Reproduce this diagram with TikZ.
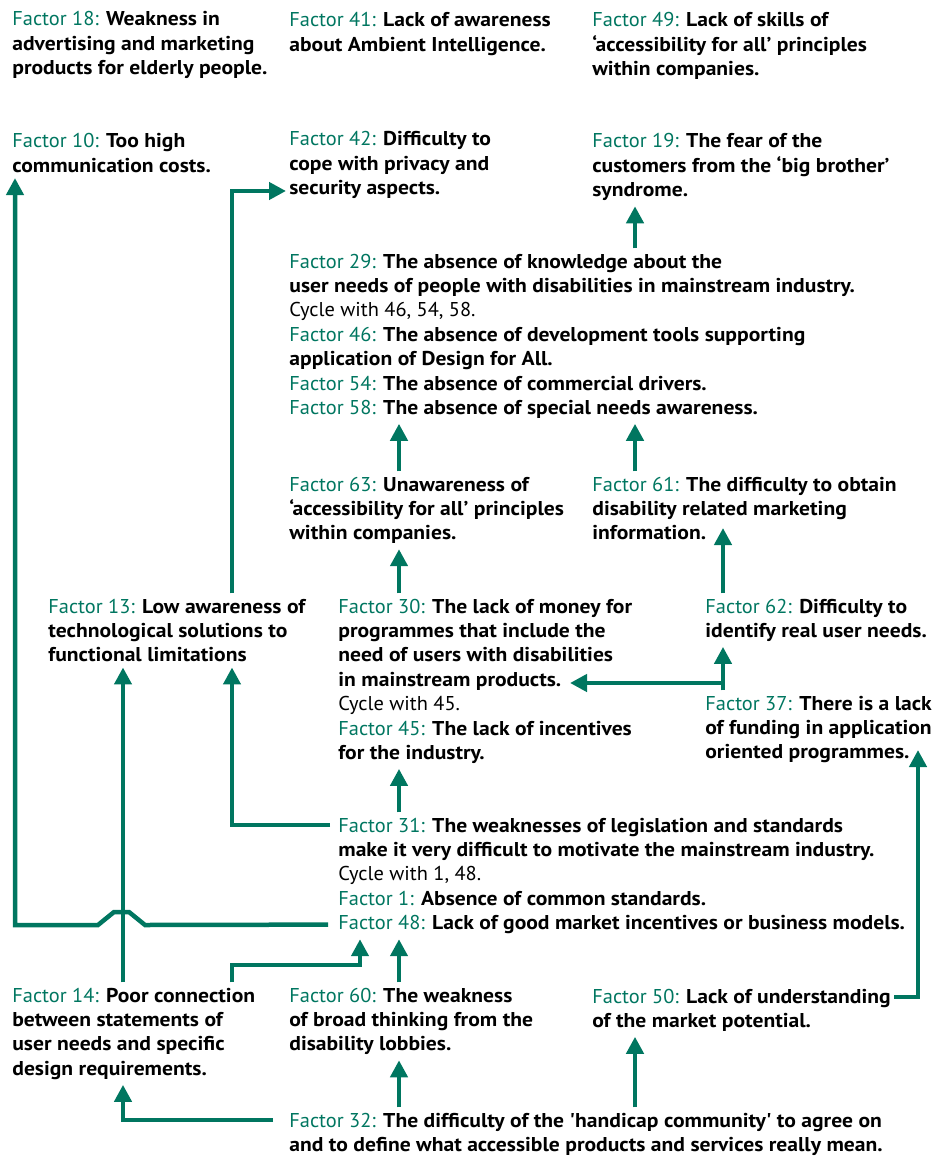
\documentclass[tikz,border=0pt]{standalone}
\usepackage{fontspec}
\setmainfont{PT Sans}[FakeStretch=1.08]
\newfontfamily\labfont{PT Sans}[FakeStretch=1.02]
\newfontfamily\rawpt{PT Sans}[FakeStretch=1.08]
\usetikzlibrary{arrows.meta}
\definecolor{fgreen}{RGB}{0,118,96}
\newcommand{\fac}[1]{{\labfont\mdseries\color{fgreen}Factor #1:}}
\newcommand{\cyc}[1]{{\labfont\mdseries Cycle with #1.}}
\newcommand{\sq}{{\rawpt\bfseries'}}

\tikzset{every picture/.style={line width=0.75pt}}
\tikzset{
  factor/.style={anchor=base west, align=left, inner xsep=3pt, inner ysep=5pt,
    font=\fontsize{20}{24.4}\selectfont\bfseries},
  link/.style={draw=fgreen, line width=4.5pt, -{Triangle[width=17pt,length=17pt]}},
}

\begin{document}
\begin{tikzpicture}[x=1pt,y=1pt,yscale=-1,xscale=1]
	\useasboundingbox (0,0) rectangle (936,1158);

	% Text Node (placed at the baseline of the last line)
	\node[factor] (f18) at (9,74.8) {\fac{18} Weakness in\\advertising and marketing\\products for elderly people.};
	\node[factor] (f41) at (286,51.4) {\fac{41} Lack of awareness\\about Ambient Intelligence.};
	\node[factor] (f49) at (589,75.8) {\fac{49} Lack of skills of\\‘accessibility for all’ principles\\within companies.};
	\node[factor] (f10) at (9,172.4) {\fac{10} Too high\\communication costs.};
	\node[factor] (f42) at (286,194.8) {\fac{42} Difficulty to\\cope with privacy and\\security aspects.};
	\node[factor] (f19) at (589,196.8) {\fac{19} The fear of the\\customers from the ‘big brother’\\syndrome.};
	% Text Node
	\node[factor] (f29) at (286,316.8) {\fac{29} The absence of knowledge about the\\user needs of people with disabilities in mainstream industry.\\\cyc{46, 54, 58}};
	\node[factor] (f46) at (286,365.6) {\fac{46} The absence of development tools supporting\\application of Design for All.};
	\node[factor] (f54) at (286,390) {\fac{54} The absence of commercial drivers.};
	\node[factor] (f58) at (286,414.4) {\fac{58} The absence of special needs awareness.};
	\node[factor] (f63) at (286,539.8) {\fac{63} Unawareness of\\‘accessibility for all’ principles\\within companies.};
	\node[factor] (f61) at (589,539.8) {\fac{61} The difficulty to obtain\\disability related marketing\\information.};
	% Text Node
	\node[factor] (f13) at (45,661.8) {\fac{13} Low awareness of\\technological solutions to\\functional limitations};
	\node[factor] (f30) at (335,710.6) {\fac{30} The lack of money for\\programmes that include the\\need of users with disabilities\\in mainstream products.\\\cyc{45}};
	\node[factor] (f45) at (335,759.4) {\fac{45} The lack of incentives\\for the industry.};
	\node[factor] (f62) at (702,637.4) {\fac{62} Difficulty to\\identify real user needs.};
	\node[factor] (f37) at (702,758.8) {\fac{37} There is a lack\\of funding in application\\oriented programmes.};
	% Text Node
	\node[factor] (f31) at (335,880.8) {\fac{31} The weaknesses of legislation and standards\\make it very difficult to motivate the mainstream industry.\\\cyc{1, 48}};
	\node[factor] (f1) at (335,905.2) {\fac{1} Absence of common standards.};
	\node[factor] (f48) at (335,929.6) {\fac{48} Lack of good market incentives or business models.};
	\node[factor] (f14) at (9,1075.2) {\fac{14} Poor connection\\between statements of\\user needs and specific\\design requirements.};
	\node[factor] (f60) at (286,1050.8) {\fac{60} The weakness\\of broad thinking from the\\disability lobbies.};
	\node[factor] (f50) at (589,1027.4) {\fac{50} Lack of understanding\\of the market potential.};
	\node[factor] (f32) at (286,1151.4) {\fac{32} The difficulty of the \sq handicap community\sq{} to agree on\\and to define what accessible products and services really mean.};

	% columns and bends
	\coordinate (ca) at (15,0);
	\coordinate (cb) at (123,0);
	\coordinate (cc) at (232,0);
	\coordinate (cd) at (360,0);
	\coordinate (ce) at (399,0);
	\coordinate (cf) at (635,0);
	\coordinate (cg) at (723,0);
	\coordinate (k42) at (232,191);
	\coordinate (t61) at (723,528);
	\coordinate (k37) at (723,683);
	\coordinate (p30) at (570,683);
	\coordinate (t37) at (918,750);
	\coordinate (k31) at (232,825);
	\coordinate (u1) at (145,925);
	\coordinate (u2) at (129,912);
	\coordinate (u3) at (114,912);
	\coordinate (u4) at (98,925);
	\coordinate (k10) at (15,925);
	\coordinate (k14) at (232,965);
	\coordinate (b50) at (918,997);
	\coordinate (k32) at (123,1120);

	%Straight Lines
	\draw[link] (f29.north -| cf) -- (f19.south -| cf);
	\draw[link] (f63.north -| ce) -- (f58.south -| ce);
	\draw[link] (f61.north -| cf) -- (f58.south -| cf);
	\draw[link] (f30.north -| ce) -- (f63.south -| ce);
	\draw[link] (f62.north -| cg) -- (t61);
	\draw[link] (f37.north -| cg) -- (k37) -- (p30);
	\draw[link] (k37) -- (f62.south -| cg);
	\draw[link] (f31.north -| ce) -- (f45.south -| ce);
	\draw[link, shorten <=5pt] (f31.west |- k31) -- (k31) -- (f13.south -| cc);
	\draw[link] (f13.north -| cc) -- (k42) -- (f42.west |- k42);
	%Bridge over the line from factor 14
	\draw[link, shorten <=7pt] (f48.west) -- (u1) -- (u2) -- (u3) -- (u4) -- (k10) -- (f10.south -| ca);
	\draw[link] (f14.north -| cb) -- (f13.south -| cb);
	\draw[link] (f14.north -| cc) -- (k14) -- (k14 -| cd) -- (f48.south -| cd);
	\draw[link] (f60.north -| ce) -- (f48.south -| ce);
	\draw[link] (f50.east |- b50) -- (b50) -- (t37);
	\draw[link, shorten <=13pt] (f32.west |- k32) -- (k32) -- (f14.south -| cb);
	\draw[link] (f32.north -| ce) -- (f60.south -| ce);
	\draw[link] (f32.north -| cf) -- (f50.south -| cf);

\end{tikzpicture}
\end{document}
